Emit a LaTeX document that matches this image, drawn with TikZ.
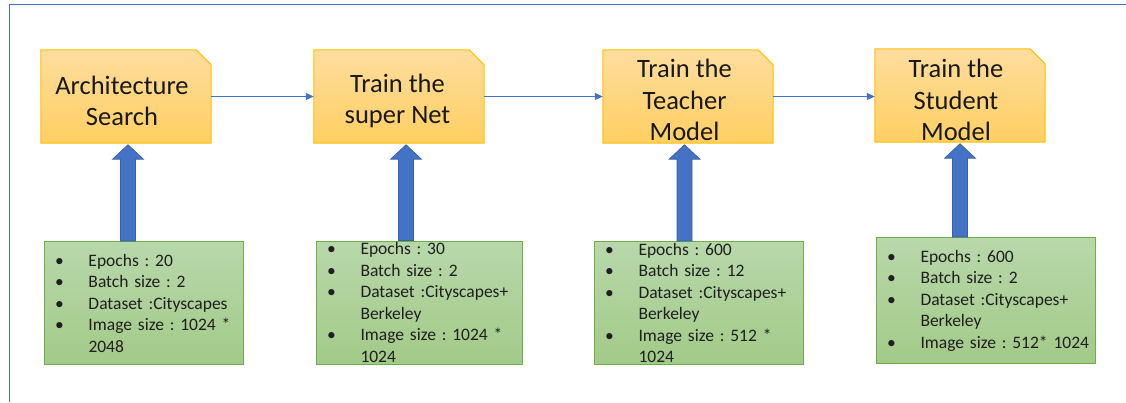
\documentclass[tikz,border=0pt]{standalone}
\usepackage{fontspec}
\setmainfont{Carlito}
\usetikzlibrary{arrows.meta,calc,backgrounds}
\frenchspacing

\definecolor{frameblue}{RGB}{68,114,196}
\definecolor{goldtop}{RGB}{254,221,158}
\definecolor{goldbot}{RGB}{255,207,98}
\definecolor{goldline}{RGB}{255,192,0}
\definecolor{greentop}{RGB}{184,216,170}
\definecolor{greenbot}{RGB}{162,202,136}
\definecolor{greenline}{RGB}{112,173,71}
\definecolor{arrowline}{RGB}{55,95,165}

% bullet line and continuation line of a parameter list
\newcommand\gitem[1]{\mbox{\makebox[32pt][l]{\hspace*{-1.5pt}\textbullet}#1}}
\newcommand\gcont[1]{\mbox{\hspace*{32pt}#1}}

% stage box with its top right corner cut off
\newcommand\snipbox[1]{%
  \shadedraw[top color=goldtop, bottom color=goldbot, draw=goldline, line width=1pt]
    (#1.south west) -- (#1.north west) -- ([xshift=-15pt]#1.north east)
    -- ([yshift=-15pt]#1.north east) -- (#1.south east) -- cycle;}

% thick block arrow from a parameter box up to its stage
\newcommand\liftarrow[3]{%
  \filldraw[bigarrow]
    ($(#1 |- #2.north)+(-7.5,0)$) -- ($(#1 |- #3.south)+(-7.5,16)$)
    -- ($(#1 |- #3.south)+(-15.5,16)$) -- ($(#1 |- #3.south)+(0,1.5)$)
    -- ($(#1 |- #3.south)+(15.5,16)$) -- ($(#1 |- #3.south)+(7.5,16)$)
    -- ($(#1 |- #2.north)+(7.5,0)$) -- cycle;}

\tikzset{
  stage/.style={minimum width=170pt, minimum height=93pt, inner sep=0pt},
  stagetext/.style={inner sep=0pt, align=center,
    font=\fontsize{26.5}{31.5}\selectfont, text=black!90},
  params/.style={draw=greenline, line width=1pt, top color=greentop,
    bottom color=greenbot, inner xsep=12pt, inner ysep=0pt, align=left,
    font=\fontsize{17.5}{21.5}\selectfont, text=black!88, anchor=north west},
  flow/.style={draw=frameblue, line width=0.8pt,
    -{Triangle[length=8pt,width=7pt]}},
  bigarrow/.style={fill=frameblue, draw=arrowline, line width=0.6pt},
  frameline/.style={draw=frameblue, line width=1pt},
}

\begin{document}
\begin{tikzpicture}[x=1pt,y=-1pt]
\useasboundingbox (0,0) rectangle (1126,402);

% page frame
\draw[frameline] (9,402) -- (9,4.5) -- (1126,4.5);

% stages
\node[stage] (t1) at (126,96.5) {};
\node[stage] (t2) at (399,96.5) {};
\node[stage] (t3) at (688,96.5) {};
\node[stage] (t4) at (960,95.5) {};

\begin{pgfonlayer}{background}
  \snipbox{t1}
  \snipbox{t2}
  \snipbox{t3}
  \snipbox{t4}
\end{pgfonlayer}

% stage titles
\node[stagetext] (t1l) at ($(t1.center)+(-4,4.5)$) {Architecture\\Search};
\node[stagetext] (t2l) at ($(t2.center)+(-1.5,4.5)$) {Train the\\super Net};
\node[stagetext] (t3l) at ($(t3.center)+(-3.5,3.5)$) {Train the\\Teacher\\Model};
\node[stagetext] (t4l) at ($(t4.center)+(-4,4.5)$) {Train the\\Student\\Model};

% training parameters
\node[params, text width=175pt, minimum height=123pt] (g1) at (44,241)
  {\gitem{Epochs : 20}\\\gitem{Batch size : 2}\\\gitem{Dataset :Cityscapes}\\
   \gitem{Image size : 1024 *}\\\gcont{2048}};
\node[params, text width=182pt, minimum height=123pt] (g2) at (316,240.5)
  {\gitem{Epochs : 30}\\\gitem{Batch size : 2}\\\gitem{Dataset :Cityscapes+}\\
   \gcont{Berkeley}\\\gitem{Image size : 1024 *}\\\gcont{1024}};
\node[params, text width=185pt, minimum height=123pt] (g3) at (594,241)
  {\gitem{Epochs : 600}\\\gitem{Batch size : 12}\\\gitem{Dataset :Cityscapes+}\\
   \gcont{Berkeley}\\\gitem{Image size : 512 *}\\\gcont{1024}};
\node[params, text width=195pt, minimum height=126pt] (g4) at (876,237)
  {\gitem{Epochs : 600}\\\gitem{Batch size : 2}\\\gitem{Dataset :Cityscapes+}\\
   \gcont{Berkeley}\\\gitem{Image size : 512* 1024}};

% flow between stages
\draw[flow] (t1.east) -- (t2.west);
\draw[flow] (t2.east) -- (t3.west);
\draw[flow] (t3.east) -- (t3.east -| t4.west);

% parameters feeding each stage
\coordinate (a1) at (128,0);
\coordinate (a2) at (406,0);
\coordinate (a3) at (684.5,0);
\coordinate (a4) at (960,0);
\liftarrow{a1}{g1}{t1}
\liftarrow{a2}{g2}{t2}
\liftarrow{a3}{g3}{t3}
\liftarrow{a4}{g4}{t4}
\end{tikzpicture}
\end{document}
